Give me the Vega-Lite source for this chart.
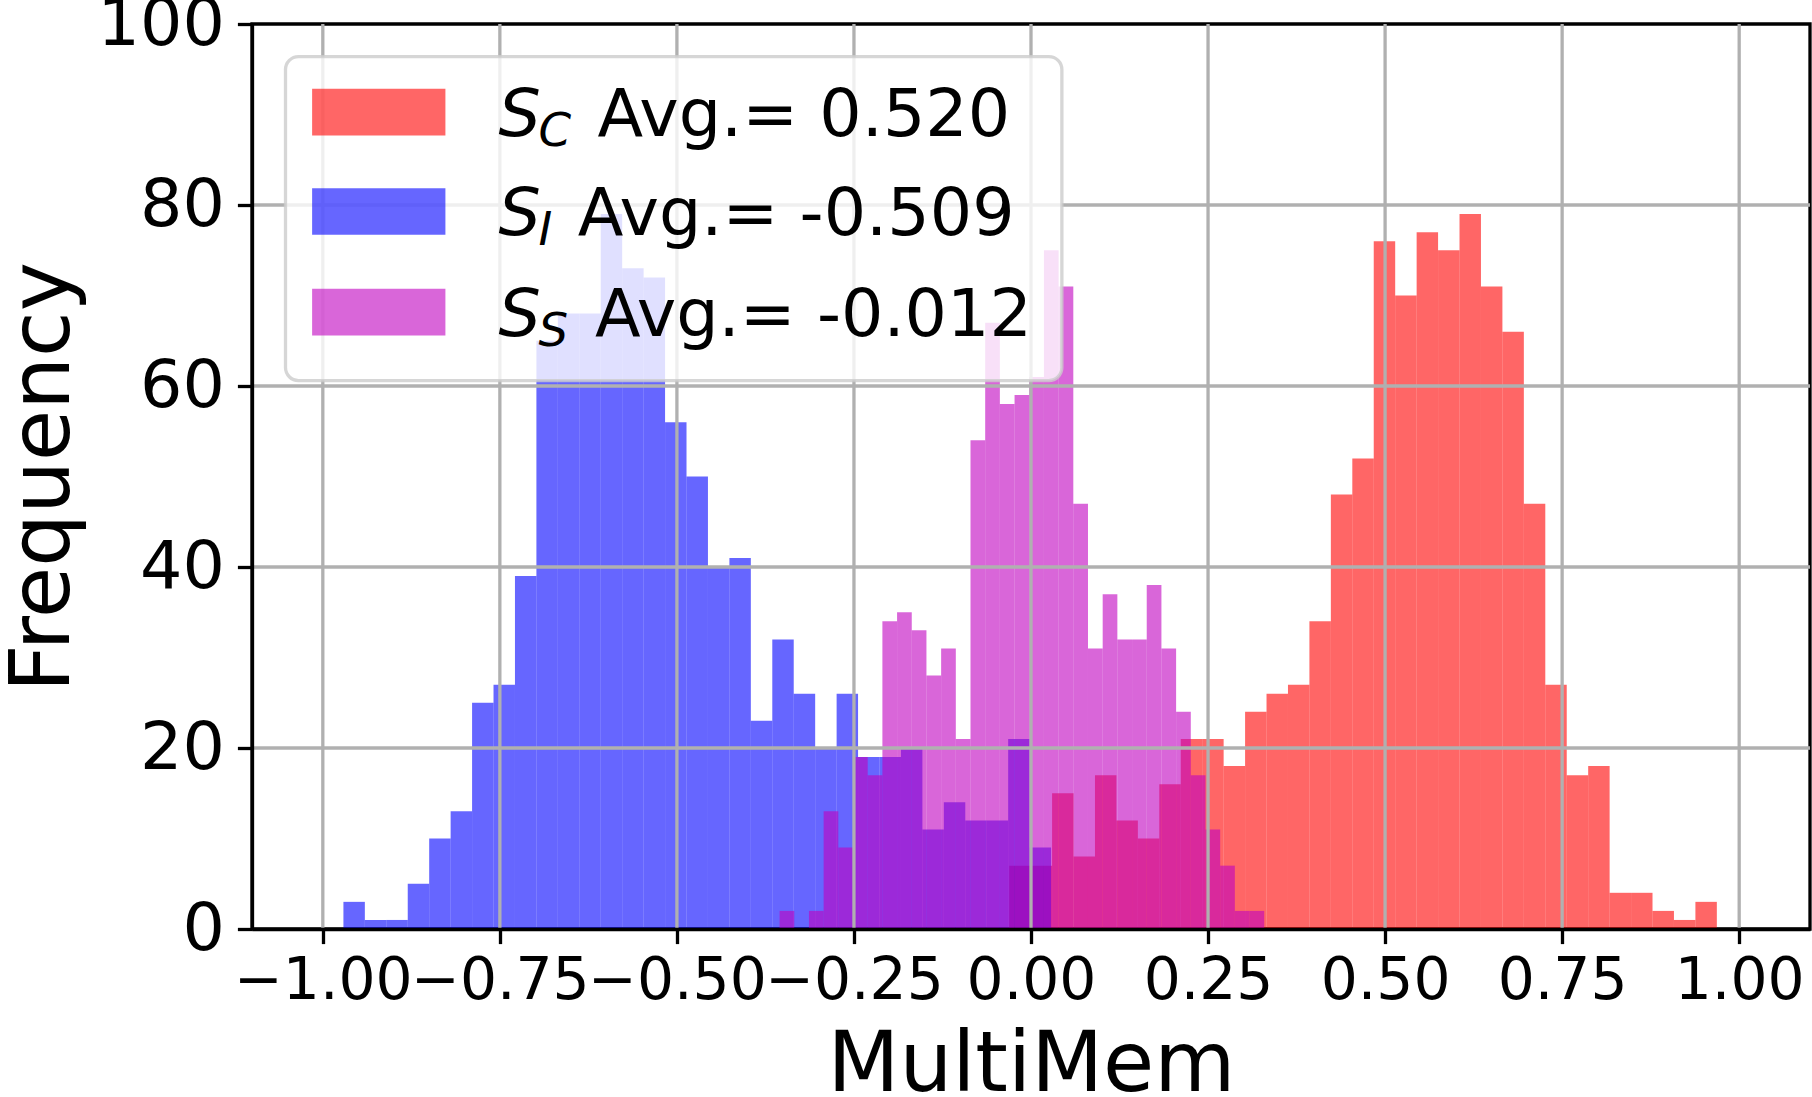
{
  "$schema": "https://vega.github.io/schema/vega-lite/v6.json",
  "width": 1558,
  "height": 905,
  "autosize": {"type": "none"},
  "padding": {"left": 252, "top": 24, "right": 2, "bottom": 168},
  "background": "#ffffff",
  "config": {
    "view": {"stroke": "#000000", "strokeWidth": 3.3},
    "axis": {
      "domainColor": "#000000",
      "domainWidth": 3.3,
      "tickColor": "#000000",
      "tickWidth": 3.3,
      "tickSize": 14.6,
      "labelColor": "#000000",
      "titleColor": "#000000",
      "labelFont": "DejaVu Sans",
      "titleFont": "DejaVu Sans",
      "titleFontWeight": "normal",
      "labelFlush": false,
      "labelOverlap": false,
      "grid": false
    }
  },
  "datasets": {
    "hist": [
      {"group": "S_C", "bin_start": -0.03078, "bin_end": -0.00050, "count": 7},
      {"group": "S_C", "bin_start": -0.00050, "bin_end": 0.02978, "count": 7},
      {"group": "S_C", "bin_start": 0.02978, "bin_end": 0.06006, "count": 15},
      {"group": "S_C", "bin_start": 0.06006, "bin_end": 0.09034, "count": 8},
      {"group": "S_C", "bin_start": 0.09034, "bin_end": 0.12062, "count": 17},
      {"group": "S_C", "bin_start": 0.12062, "bin_end": 0.15090, "count": 12},
      {"group": "S_C", "bin_start": 0.15090, "bin_end": 0.18118, "count": 10},
      {"group": "S_C", "bin_start": 0.18118, "bin_end": 0.21146, "count": 16},
      {"group": "S_C", "bin_start": 0.21146, "bin_end": 0.24174, "count": 21},
      {"group": "S_C", "bin_start": 0.24174, "bin_end": 0.27202, "count": 21},
      {"group": "S_C", "bin_start": 0.27202, "bin_end": 0.30230, "count": 18},
      {"group": "S_C", "bin_start": 0.30230, "bin_end": 0.33258, "count": 24},
      {"group": "S_C", "bin_start": 0.33258, "bin_end": 0.36286, "count": 26},
      {"group": "S_C", "bin_start": 0.36286, "bin_end": 0.39314, "count": 27},
      {"group": "S_C", "bin_start": 0.39314, "bin_end": 0.42342, "count": 34},
      {"group": "S_C", "bin_start": 0.42342, "bin_end": 0.45370, "count": 48},
      {"group": "S_C", "bin_start": 0.45370, "bin_end": 0.48398, "count": 52},
      {"group": "S_C", "bin_start": 0.48398, "bin_end": 0.51426, "count": 76},
      {"group": "S_C", "bin_start": 0.51426, "bin_end": 0.54454, "count": 70},
      {"group": "S_C", "bin_start": 0.54454, "bin_end": 0.57482, "count": 77},
      {"group": "S_C", "bin_start": 0.57482, "bin_end": 0.60510, "count": 75},
      {"group": "S_C", "bin_start": 0.60510, "bin_end": 0.63538, "count": 79},
      {"group": "S_C", "bin_start": 0.63538, "bin_end": 0.66566, "count": 71},
      {"group": "S_C", "bin_start": 0.66566, "bin_end": 0.69594, "count": 66},
      {"group": "S_C", "bin_start": 0.69594, "bin_end": 0.72622, "count": 47},
      {"group": "S_C", "bin_start": 0.72622, "bin_end": 0.75650, "count": 27},
      {"group": "S_C", "bin_start": 0.75650, "bin_end": 0.78678, "count": 17},
      {"group": "S_C", "bin_start": 0.78678, "bin_end": 0.81706, "count": 18},
      {"group": "S_C", "bin_start": 0.81706, "bin_end": 0.84734, "count": 4},
      {"group": "S_C", "bin_start": 0.84734, "bin_end": 0.87762, "count": 4},
      {"group": "S_C", "bin_start": 0.87762, "bin_end": 0.90790, "count": 2},
      {"group": "S_C", "bin_start": 0.90790, "bin_end": 0.93818, "count": 1},
      {"group": "S_C", "bin_start": 0.93818, "bin_end": 0.96846, "count": 3},
      {"group": "S_I", "bin_start": -0.97092, "bin_end": -0.94064, "count": 3},
      {"group": "S_I", "bin_start": -0.94064, "bin_end": -0.91036, "count": 1},
      {"group": "S_I", "bin_start": -0.91036, "bin_end": -0.88008, "count": 1},
      {"group": "S_I", "bin_start": -0.88008, "bin_end": -0.84980, "count": 5},
      {"group": "S_I", "bin_start": -0.84980, "bin_end": -0.81952, "count": 10},
      {"group": "S_I", "bin_start": -0.81952, "bin_end": -0.78924, "count": 13},
      {"group": "S_I", "bin_start": -0.78924, "bin_end": -0.75896, "count": 25},
      {"group": "S_I", "bin_start": -0.75896, "bin_end": -0.72868, "count": 27},
      {"group": "S_I", "bin_start": -0.72868, "bin_end": -0.69840, "count": 39},
      {"group": "S_I", "bin_start": -0.69840, "bin_end": -0.66812, "count": 65},
      {"group": "S_I", "bin_start": -0.66812, "bin_end": -0.63784, "count": 68},
      {"group": "S_I", "bin_start": -0.63784, "bin_end": -0.60756, "count": 68},
      {"group": "S_I", "bin_start": -0.60756, "bin_end": -0.57728, "count": 79},
      {"group": "S_I", "bin_start": -0.57728, "bin_end": -0.54700, "count": 73},
      {"group": "S_I", "bin_start": -0.54700, "bin_end": -0.51672, "count": 72},
      {"group": "S_I", "bin_start": -0.51672, "bin_end": -0.48644, "count": 56},
      {"group": "S_I", "bin_start": -0.48644, "bin_end": -0.45616, "count": 50},
      {"group": "S_I", "bin_start": -0.45616, "bin_end": -0.42588, "count": 40},
      {"group": "S_I", "bin_start": -0.42588, "bin_end": -0.39560, "count": 41},
      {"group": "S_I", "bin_start": -0.39560, "bin_end": -0.36532, "count": 23},
      {"group": "S_I", "bin_start": -0.36532, "bin_end": -0.33504, "count": 32},
      {"group": "S_I", "bin_start": -0.33504, "bin_end": -0.30476, "count": 26},
      {"group": "S_I", "bin_start": -0.30476, "bin_end": -0.27448, "count": 20},
      {"group": "S_I", "bin_start": -0.27448, "bin_end": -0.24420, "count": 26},
      {"group": "S_I", "bin_start": -0.24420, "bin_end": -0.21392, "count": 19},
      {"group": "S_I", "bin_start": -0.21392, "bin_end": -0.18364, "count": 19},
      {"group": "S_I", "bin_start": -0.18364, "bin_end": -0.15336, "count": 20},
      {"group": "S_I", "bin_start": -0.15336, "bin_end": -0.12308, "count": 11},
      {"group": "S_I", "bin_start": -0.12308, "bin_end": -0.09280, "count": 14},
      {"group": "S_I", "bin_start": -0.09280, "bin_end": -0.06252, "count": 12},
      {"group": "S_I", "bin_start": -0.06252, "bin_end": -0.03224, "count": 12},
      {"group": "S_I", "bin_start": -0.03224, "bin_end": -0.00196, "count": 21},
      {"group": "S_I", "bin_start": -0.00196, "bin_end": 0.02832, "count": 9},
      {"group": "S_S", "bin_start": -0.35502, "bin_end": -0.33428, "count": 2},
      {"group": "S_S", "bin_start": -0.33428, "bin_end": -0.31354, "count": 0},
      {"group": "S_S", "bin_start": -0.31354, "bin_end": -0.29281, "count": 2},
      {"group": "S_S", "bin_start": -0.29281, "bin_end": -0.27207, "count": 13},
      {"group": "S_S", "bin_start": -0.27207, "bin_end": -0.25133, "count": 9},
      {"group": "S_S", "bin_start": -0.25133, "bin_end": -0.23059, "count": 19},
      {"group": "S_S", "bin_start": -0.23059, "bin_end": -0.20985, "count": 17},
      {"group": "S_S", "bin_start": -0.20985, "bin_end": -0.18912, "count": 34},
      {"group": "S_S", "bin_start": -0.18912, "bin_end": -0.16838, "count": 35},
      {"group": "S_S", "bin_start": -0.16838, "bin_end": -0.14764, "count": 33},
      {"group": "S_S", "bin_start": -0.14764, "bin_end": -0.12690, "count": 28},
      {"group": "S_S", "bin_start": -0.12690, "bin_end": -0.10616, "count": 31},
      {"group": "S_S", "bin_start": -0.10616, "bin_end": -0.08543, "count": 21},
      {"group": "S_S", "bin_start": -0.08543, "bin_end": -0.06469, "count": 54},
      {"group": "S_S", "bin_start": -0.06469, "bin_end": -0.04395, "count": 67},
      {"group": "S_S", "bin_start": -0.04395, "bin_end": -0.02321, "count": 58},
      {"group": "S_S", "bin_start": -0.02321, "bin_end": -0.00247, "count": 59},
      {"group": "S_S", "bin_start": -0.00247, "bin_end": 0.01826, "count": 61},
      {"group": "S_S", "bin_start": 0.01826, "bin_end": 0.03900, "count": 75},
      {"group": "S_S", "bin_start": 0.03900, "bin_end": 0.05974, "count": 71},
      {"group": "S_S", "bin_start": 0.05974, "bin_end": 0.08048, "count": 47},
      {"group": "S_S", "bin_start": 0.08048, "bin_end": 0.10122, "count": 31},
      {"group": "S_S", "bin_start": 0.10122, "bin_end": 0.12195, "count": 37},
      {"group": "S_S", "bin_start": 0.12195, "bin_end": 0.14269, "count": 32},
      {"group": "S_S", "bin_start": 0.14269, "bin_end": 0.16343, "count": 32},
      {"group": "S_S", "bin_start": 0.16343, "bin_end": 0.18417, "count": 38},
      {"group": "S_S", "bin_start": 0.18417, "bin_end": 0.20491, "count": 31},
      {"group": "S_S", "bin_start": 0.20491, "bin_end": 0.22564, "count": 24},
      {"group": "S_S", "bin_start": 0.22564, "bin_end": 0.24638, "count": 17},
      {"group": "S_S", "bin_start": 0.24638, "bin_end": 0.26712, "count": 11},
      {"group": "S_S", "bin_start": 0.26712, "bin_end": 0.28786, "count": 7},
      {"group": "S_S", "bin_start": 0.28786, "bin_end": 0.30860, "count": 2},
      {"group": "S_S", "bin_start": 0.30860, "bin_end": 0.32933, "count": 2}
    ],
    "legend": [
      {"group": "S_C", "sub": "C", "label": "Avg.= 0.520"},
      {"group": "S_I", "sub": "I", "label": "Avg.= -0.509"},
      {"group": "S_S", "sub": "S", "label": "Avg.= -0.012"}
    ]
  },
  "layer": [
    {
      "data": {"name": "hist"},
      "mark": {"type": "rect", "opacity": 0.6},
      "encoding": {
        "x": {
          "field": "bin_start",
          "type": "quantitative",
          "scale": {"domain": [-1.1, 1.1], "nice": false, "zero": false},
          "axis": {
            "title": "MultiMem",
            "values": [-1, -0.75, -0.5, -0.25, 0, 0.25, 0.5, 0.75, 1],
            "format": ".2f",
            "labelFontSize": 58.3,
            "titleFontSize": 83.3,
            "labelPadding": 9,
            "titlePadding": 15,
            "zindex": 1
          }
        },
        "x2": {"field": "bin_end"},
        "y": {
          "field": "count",
          "type": "quantitative",
          "scale": {"domain": [0, 100], "nice": false},
          "axis": {
            "title": "Frequency",
            "values": [0, 20, 40, 60, 80, 100],
            "format": "d",
            "labelFontSize": 66.7,
            "titleFontSize": 83.3,
            "labelPadding": 13,
            "titlePadding": 12,
            "zindex": 1
          }
        },
        "y2": {"datum": 0},
        "color": {
          "field": "group",
          "type": "nominal",
          "scale": {"domain": ["S_C", "S_I", "S_S"], "range": ["#ff0000", "#0000ff", "#bf00bf"]},
          "legend": null
        }
      }
    },
    {"data": {"values": [{}]}, "mark": {"type": "rule", "color": "#b0b0b0", "strokeWidth": 3.3}, "encoding": {"x": {"datum": -1}}},
    {"data": {"values": [{}]}, "mark": {"type": "rule", "color": "#b0b0b0", "strokeWidth": 3.3}, "encoding": {"x": {"datum": -0.75}}},
    {"data": {"values": [{}]}, "mark": {"type": "rule", "color": "#b0b0b0", "strokeWidth": 3.3}, "encoding": {"x": {"datum": -0.5}}},
    {"data": {"values": [{}]}, "mark": {"type": "rule", "color": "#b0b0b0", "strokeWidth": 3.3}, "encoding": {"x": {"datum": -0.25}}},
    {"data": {"values": [{}]}, "mark": {"type": "rule", "color": "#b0b0b0", "strokeWidth": 3.3}, "encoding": {"x": {"datum": 0}}},
    {"data": {"values": [{}]}, "mark": {"type": "rule", "color": "#b0b0b0", "strokeWidth": 3.3}, "encoding": {"x": {"datum": 0.25}}},
    {"data": {"values": [{}]}, "mark": {"type": "rule", "color": "#b0b0b0", "strokeWidth": 3.3}, "encoding": {"x": {"datum": 0.5}}},
    {"data": {"values": [{}]}, "mark": {"type": "rule", "color": "#b0b0b0", "strokeWidth": 3.3}, "encoding": {"x": {"datum": 0.75}}},
    {"data": {"values": [{}]}, "mark": {"type": "rule", "color": "#b0b0b0", "strokeWidth": 3.3}, "encoding": {"x": {"datum": 1}}},
    {"data": {"values": [{}]}, "mark": {"type": "rule", "color": "#b0b0b0", "strokeWidth": 3.3}, "encoding": {"y": {"datum": 20}}},
    {"data": {"values": [{}]}, "mark": {"type": "rule", "color": "#b0b0b0", "strokeWidth": 3.3}, "encoding": {"y": {"datum": 40}}},
    {"data": {"values": [{}]}, "mark": {"type": "rule", "color": "#b0b0b0", "strokeWidth": 3.3}, "encoding": {"y": {"datum": 60}}},
    {"data": {"values": [{}]}, "mark": {"type": "rule", "color": "#b0b0b0", "strokeWidth": 3.3}, "encoding": {"y": {"datum": 80}}},
    {
      "data": {"values": [{}]},
      "mark": {
        "type": "rect",
        "fill": "#ffffff",
        "fillOpacity": 0.8,
        "stroke": "#cccccc",
        "strokeOpacity": 0.8,
        "strokeWidth": 3.3,
        "cornerRadius": 13
      },
      "encoding": {
        "x": {"datum": -1.0527},
        "x2": {"datum": 0.0436},
        "y": {"datum": 96.4},
        "y2": {"datum": 60.6}
      }
    },
    {
      "data": {"name": "legend"},
      "transform": [{"filter": "datum.group === 'S_C'"}],
      "encoding": {"y": {"datum": 90.27}},
      "layer": [
        {
          "mark": {"type": "point", "shape": "M-1,-0.35H1V0.35H-1Z", "size": 17769, "filled": true, "opacity": 0.6, "strokeWidth": 0},
          "encoding": {"x": {"datum": -0.921}, "color": {"field": "group", "type": "nominal", "legend": null}}
        },
        {
          "mark": {"type": "text", "text": "S", "font": "DejaVu Sans", "fontStyle": "italic", "fontSize": 66.7, "align": "left", "baseline": "alphabetic", "dy": 23.5, "color": "#000000"},
          "encoding": {"x": {"datum": -0.7518}}
        },
        {
          "mark": {"type": "text", "font": "DejaVu Sans", "fontStyle": "italic", "fontSize": 46.7, "align": "left", "baseline": "alphabetic", "dy": 33.5, "color": "#000000"},
          "encoding": {"x": {"datum": -0.6955}, "text": {"field": "sub"}}
        },
        {
          "mark": {"type": "text", "font": "DejaVu Sans", "fontSize": 66.7, "align": "left", "baseline": "alphabetic", "dy": 23.5, "color": "#000000"},
          "encoding": {"x": {"datum": -0.6121}, "text": {"field": "label"}}
        }
      ]
    },
    {
      "data": {"name": "legend"},
      "transform": [{"filter": "datum.group === 'S_I'"}],
      "encoding": {"y": {"datum": 79.28}},
      "layer": [
        {
          "mark": {"type": "point", "shape": "M-1,-0.35H1V0.35H-1Z", "size": 17769, "filled": true, "opacity": 0.6, "strokeWidth": 0},
          "encoding": {"x": {"datum": -0.921}, "color": {"field": "group", "type": "nominal", "legend": null}}
        },
        {
          "mark": {"type": "text", "text": "S", "font": "DejaVu Sans", "fontStyle": "italic", "fontSize": 66.7, "align": "left", "baseline": "alphabetic", "dy": 23.5, "color": "#000000"},
          "encoding": {"x": {"datum": -0.7518}}
        },
        {
          "mark": {"type": "text", "font": "DejaVu Sans", "fontStyle": "italic", "fontSize": 46.7, "align": "left", "baseline": "alphabetic", "dy": 33.5, "color": "#000000"},
          "encoding": {"x": {"datum": -0.6955}, "text": {"field": "sub"}}
        },
        {
          "mark": {"type": "text", "font": "DejaVu Sans", "fontSize": 66.7, "align": "left", "baseline": "alphabetic", "dy": 23.5, "color": "#000000"},
          "encoding": {"x": {"datum": -0.6399}, "text": {"field": "label"}}
        }
      ]
    },
    {
      "data": {"name": "legend"},
      "transform": [{"filter": "datum.group === 'S_S'"}],
      "encoding": {"y": {"datum": 68.17}},
      "layer": [
        {
          "mark": {"type": "point", "shape": "M-1,-0.35H1V0.35H-1Z", "size": 17769, "filled": true, "opacity": 0.6, "strokeWidth": 0},
          "encoding": {"x": {"datum": -0.921}, "color": {"field": "group", "type": "nominal", "legend": null}}
        },
        {
          "mark": {"type": "text", "text": "S", "font": "DejaVu Sans", "fontStyle": "italic", "fontSize": 66.7, "align": "left", "baseline": "alphabetic", "dy": 23.5, "color": "#000000"},
          "encoding": {"x": {"datum": -0.7518}}
        },
        {
          "mark": {"type": "text", "font": "DejaVu Sans", "fontStyle": "italic", "fontSize": 46.7, "align": "left", "baseline": "alphabetic", "dy": 33.5, "color": "#000000"},
          "encoding": {"x": {"datum": -0.6955}, "text": {"field": "sub"}}
        },
        {
          "mark": {"type": "text", "font": "DejaVu Sans", "fontSize": 66.7, "align": "left", "baseline": "alphabetic", "dy": 23.5, "color": "#000000"},
          "encoding": {"x": {"datum": -0.6155}, "text": {"field": "label"}}
        }
      ]
    }
  ]
}
